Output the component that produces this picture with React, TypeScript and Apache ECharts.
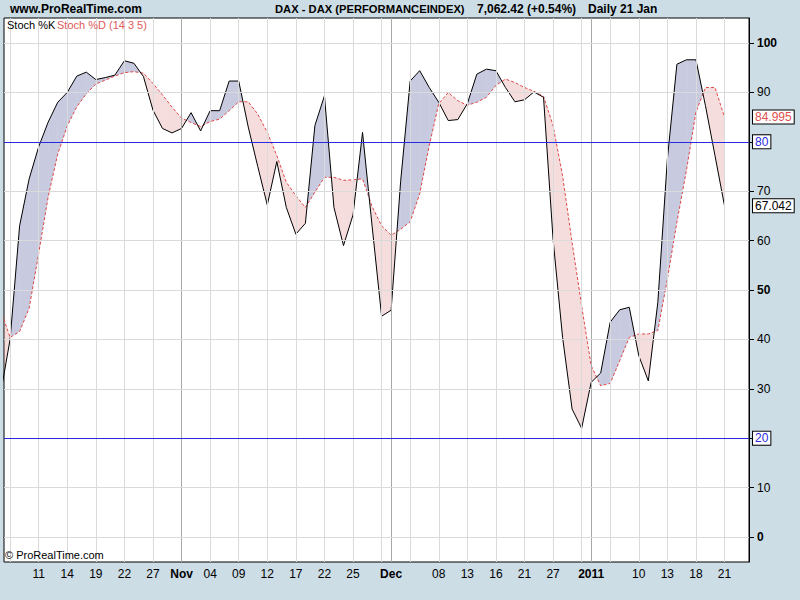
import React, { useEffect, useRef } from 'react';
import * as echarts from 'echarts';

const dates = [
  '2010-10-05','2010-10-06','2010-10-07','2010-10-08','2010-10-11','2010-10-12','2010-10-13','2010-10-14','2010-10-15','2010-10-18','2010-10-19','2010-10-20','2010-10-21','2010-10-22','2010-10-25','2010-10-26','2010-10-27','2010-10-28','2010-10-29',
  '2010-11-01','2010-11-02','2010-11-03','2010-11-04','2010-11-05','2010-11-08','2010-11-09','2010-11-10','2010-11-11','2010-11-12','2010-11-15','2010-11-16','2010-11-17','2010-11-18','2010-11-19','2010-11-22','2010-11-23','2010-11-24','2010-11-25','2010-11-26','2010-11-29','2010-11-30',
  '2010-12-01','2010-12-02','2010-12-03','2010-12-06','2010-12-07','2010-12-08','2010-12-09','2010-12-10','2010-12-13','2010-12-14','2010-12-15','2010-12-16','2010-12-17','2010-12-20','2010-12-21','2010-12-22','2010-12-23','2010-12-27','2010-12-28','2010-12-29','2010-12-30',
  '2011-01-03','2011-01-04','2011-01-05','2011-01-06','2011-01-07','2011-01-10','2011-01-11','2011-01-12','2011-01-13','2011-01-14','2011-01-17','2011-01-18','2011-01-19','2011-01-20','2011-01-21',
];

const stochK = [
  29, 40, 63, 72.5, 79, 84, 88, 90, 93.3, 94.1, 92.6, 93.0, 93.5, 96.4, 95.9, 93.2, 86.4, 82.7, 81.8,
  82.7, 85.9, 82.2, 86.3, 86.3, 92.3, 92.3, 83, 75, 67.2, 76.0, 66.7, 61.3, 63.5, 83.3, 89.3, 66.7, 59.0, 65.2, 81.9, 63.0, 44.7,
  45.9, 72, 92.3, 94.4, 91.0, 88.0, 84.3, 84.5, 87.7, 93.7, 94.7, 94.4, 91.0, 88.1, 88.5, 90.1, 89.0, 60.3, 40.4, 25.9, 22.0,
  31.3, 33.2, 43.5, 46.0, 46.5, 36.7, 31.6, 47.5, 76.5, 95.7, 96.6, 96.6, 87.3, 77.2, 67.042,
];

const stochD = [
  46, 40.4, 41.6, 46.3, 57.4, 68.9, 77.5, 83.2, 87.1, 89.7, 91.7, 92.5, 93.3, 94.0, 94.2, 93.9, 91.8, 89.5, 87.0,
  84.8, 83.9, 83.1, 84.1, 84.6, 86.3, 88.1, 88.1, 85.6, 81.9, 77.2, 71.8, 69.1, 66.7, 69.8, 72.8, 72.8, 72.2, 72.3, 72.5, 66.9, 63.0,
  61.1, 62.3, 63.8, 69.5, 79.2, 87.7, 90.0, 88.3, 87.4, 88.0, 89.0, 91.4, 92.7, 92.0, 91.0, 90.2, 89.2, 83.3, 73.1, 59.6, 46.8,
  34.7, 30.6, 31.1, 35.7, 40.4, 41.1, 41.1, 41.8, 52.2, 63.7, 74.2, 86.0, 91.0, 91.0, 84.995,
];

const tickDates = [
  '2010-10-06','2010-10-11','2010-10-14','2010-10-19','2010-10-22','2010-10-27','2010-11-01','2010-11-04','2010-11-09','2010-11-12',
  '2010-11-17','2010-11-22','2010-11-25','2010-11-30','2010-12-01','2010-12-03','2010-12-08','2010-12-13','2010-12-16','2010-12-21',
  '2010-12-27','2010-12-30','2011-01-03','2011-01-05','2011-01-10','2011-01-13','2011-01-18','2011-01-21',
];
const labelDates = [
  '2010-10-11','2010-10-14','2010-10-19','2010-10-22','2010-10-27','2010-11-01','2010-11-04','2010-11-09','2010-11-12','2010-11-17',
  '2010-11-22','2010-11-25','2010-12-01','2010-12-08','2010-12-13','2010-12-16','2010-12-21','2010-12-27','2011-01-03','2011-01-10',
  '2011-01-13','2011-01-18','2011-01-21',
];
const labelTexts = ['11','14','19','22','27','Nov','04','09','12','17','22','25','Dec','08','13','16','21','27','2011','10','13','18','21'];
const majorDates = ['2010-11-01', '2010-12-01', '2011-01-03'];

const yTicks = [0, 10, 20, 30, 40, 50, 60, 70, 80, 90, 100];
const yBold = [0, 50, 100];
const levelLines = [80, 20];

const FONT = '"Liberation Sans", Arial, sans-serif';

export default function App() {
  const ref = useRef<HTMLDivElement>(null);
  useEffect(() => {
    const chart = echarts.init(ref.current!, null, { renderer: 'svg' });
    const idx = (d: string) => dates.indexOf(d);
    const tickIdx = tickDates.map(idx);
    const labelIdx = labelDates.map(idx);
    const majorIdx = majorDates.map(idx);
    const labelMap = new Map<number, string>(labelIdx.map((v, i) => [v, labelTexts[i]]));
    const kData = stochK.map((v, i) => [i, v]);
    const dData = stochD.map((v, i) => [i, v]);
    const segs = stochK.slice(0, -1).map((k, i) => [i, k, stochD[i], stochK[i + 1], stochD[i + 1]]);
    const UP = 'rgba(110,115,170,0.38)';
    const DOWN = 'rgba(220,130,130,0.27)';

    const gridLines: any[] = [
      ...tickIdx.filter((i) => !majorIdx.includes(i)).map((i) => ({ xAxis: i })),
      ...majorIdx.map((i) => ({ xAxis: i, lineStyle: { color: '#a8a8a8' } })),
      ...yTicks.map((v) => ({ yAxis: v })),
    ];

    const lastK = stochK[stochK.length - 1];
    const lastD = stochD[stochD.length - 1];
    const boxLabel = (color: string) => ({
      show: true,
      position: 'end',
      distance: 4,
      color,
      fontSize: 12,
      fontFamily: FONT,
      backgroundColor: '#fff',
      borderColor: '#000',
      borderWidth: 1,
      padding: [1, 2, 0, 2],
    });

    chart.setOption({
      animation: false,
      backgroundColor: '#ccdde6',
      grid: {
        left: 4, right: 51, top: 18, bottom: 38,
        show: true, backgroundColor: '#fff', borderColor: '#000', borderWidth: 1,
      },
      xAxis: {
        type: 'value',
        min: 0.36,
        max: 78.57,
        axisLine: { show: true, lineStyle: { color: '#000' } },
        splitLine: { show: false },
        axisTick: { show: true, customValues: tickIdx, length: 4, lineStyle: { color: '#888' } },
        axisLabel: {
          customValues: labelIdx,
          margin: 6,
          fontSize: 12,
          fontFamily: FONT,
          color: '#000',
          formatter: (v: number) => {
            const i = Math.round(v);
            const t = labelMap.get(i) || '';
            return majorIdx.includes(i) ? `{b|${t}}` : t;
          },
          rich: { b: { fontWeight: 'bold', fontSize: 12, fontFamily: FONT, color: '#000' } },
        },
      },
      yAxis: {
        type: 'value',
        position: 'right',
        min: -5.06,
        max: 105.06,
        axisLine: { show: true, lineStyle: { color: '#000' } },
        splitLine: { show: false },
        axisTick: { show: true, inside: false, customValues: yTicks, length: 5, lineStyle: { color: '#000' } },
        axisLabel: {
          customValues: yTicks.filter((v) => !levelLines.includes(v)),
          margin: 8,
          fontSize: 12,
          fontFamily: FONT,
          color: '#000',
          formatter: (v: number) => (yBold.includes(Math.round(v)) ? `{b|${Math.round(v)}}` : `${Math.round(v)}`),
          rich: { b: { fontWeight: 'bold', fontSize: 12, fontFamily: FONT, color: '#000' } },
        },
      },
      graphic: [
        { type: 'text', left: 10, top: 3, style: { text: 'www.ProRealTime.com', font: `bold 12px ${FONT}`, fill: '#000' } },
        { type: 'text', left: 275, top: 3, style: { text: 'DAX - DAX (PERFORMANCEINDEX)', font: `bold 11.2px ${FONT}`, fill: '#000' } },
        { type: 'text', left: 477, top: 3, style: { text: '7,062.42 (+0.54%)', font: `bold 12px ${FONT}`, fill: '#000' } },
        { type: 'text', left: 588, top: 3, style: { text: 'Daily 21 Jan', font: `bold 12px ${FONT}`, fill: '#000' } },
        { type: 'text', left: 7, top: 19, z: 100, style: { text: 'Stoch %K', font: `11px ${FONT}`, fill: '#000' } },
        { type: 'text', left: 57, top: 19, z: 100, style: { text: 'Stoch %D (14 3 5)', font: `11px ${FONT}`, fill: '#e05a5a' } },
        { type: 'text', left: 5, top: 549, z: 100, style: { text: '© ProRealTime.com', font: `11px ${FONT}`, fill: '#000' } },
      ],
      series: [
        {
          type: 'line',
          name: 'grid',
          data: [],
          z: 1,
          silent: true,
          markLine: {
            silent: true,
            symbol: 'none',
            label: { show: false },
            lineStyle: { color: '#dadada', width: 1, type: 'solid' },
            data: gridLines,
          },
        },
        {
          type: 'custom',
          name: 'fill',
          z: 2,
          clip: true,
          silent: true,
          data: segs,
          encode: { x: 0, y: [1, 2] },
          renderItem: (params: any, api: any) => {
            const i = api.value(0);
            const k0 = api.value(1), d0 = api.value(2), k1 = api.value(3), d1 = api.value(4);
            const a = k0 - d0, b = k1 - d1;
            const pk0 = api.coord([i, k0]), pd0 = api.coord([i, d0]);
            const pk1 = api.coord([i + 1, k1]), pd1 = api.coord([i + 1, d1]);
            const children: any[] = [];
            if (a * b >= 0) {
              children.push({ type: 'polygon', shape: { points: [pk0, pk1, pd1, pd0] }, style: { fill: a + b >= 0 ? UP : DOWN } });
            } else {
              const t = a / (a - b);
              const pc = api.coord([i + t, k0 + t * (k1 - k0)]);
              children.push({ type: 'polygon', shape: { points: [pk0, pc, pd0] }, style: { fill: a > 0 ? UP : DOWN } });
              children.push({ type: 'polygon', shape: { points: [pc, pk1, pd1] }, style: { fill: b > 0 ? UP : DOWN } });
            }
            return { type: 'group', children };
          },
        },
        {
          type: 'line',
          name: 'Stoch %D',
          data: dData,
          z: 3,
          symbol: 'none',
          lineStyle: { color: '#e04848', width: 1, type: [3, 2] },
          markLine: {
            silent: true,
            symbol: 'none',
            lineStyle: { color: 'rgba(0,0,0,0)', width: 0 },
            label: { ...boxLabel('#e05050'), formatter: () => lastD.toFixed(3) },
            data: [{ yAxis: lastD }],
          },
        },
        {
          type: 'line',
          name: 'Stoch %K',
          data: kData,
          z: 4,
          symbol: 'none',
          lineStyle: { color: '#000', width: 1 },
          markLine: {
            silent: true,
            symbol: 'none',
            lineStyle: { color: 'rgba(0,0,0,0)', width: 0 },
            label: { ...boxLabel('#000'), formatter: () => lastK.toFixed(3) },
            data: [{ yAxis: lastK }],
          },
        },
        {
          type: 'line',
          name: 'levels',
          data: [],
          z: 5,
          markLine: {
            silent: true,
            symbol: 'none',
            lineStyle: { color: '#2a2ae0', width: 1, type: 'solid' },
            label: { ...boxLabel('#2a2ae0'), formatter: (p: any) => `${p.value}` },
            data: levelLines.map((v) => ({ yAxis: v })),
          },
        },
      ],
    });
    return () => chart.dispose();
  }, []);
  return <div ref={ref} style={{ position: 'fixed', left: 0, top: 0, width: 800, height: 600 }} />;
}
